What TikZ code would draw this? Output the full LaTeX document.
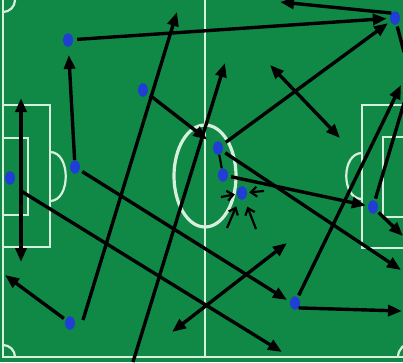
\documentclass[tikz,border=0pt]{standalone}
\usetikzlibrary{arrows.meta,shapes.geometric}
\definecolor{pitch}{RGB}{16,137,70}
\definecolor{chalk}{RGB}{215,240,222}
\definecolor{player}{RGB}{32,62,212}
\begin{document}
\begin{tikzpicture}[x=1pt,y=-1pt,
  chalkline/.style={draw=chalk,line width=2.2pt},
  pl/.style={shape=ellipse,fill=player,minimum width=10pt,minimum height=13.5pt,inner sep=0pt},
  run/.style={draw=black,line width=3.4pt,-{Triangle[length=14pt,width=11pt]}},
  runboth/.style={draw=black,line width=3.4pt,{Triangle[length=14pt,width=11pt]}-{Triangle[length=14pt,width=11pt]}},
  plainrun/.style={draw=black,line width=3.4pt},
  press/.style={draw=black,line width=2.2pt,-{Straight Barb[length=6pt,width=10pt]}}]
\useasboundingbox (0,0) rectangle (403,362);
\fill[pitch] (0,0) rectangle (403,362);
\begin{scope}
\clip (0,0) rectangle (403,362);
% pitch markings
\draw[chalkline] (3,0) -- (3,357) -- (403,357);
\draw[draw=chalk,line width=1.6pt] (205,0) -- (205,357);
\draw[chalkline] (3,105) -- (50,105) -- (50,247) -- (3,247);
\draw[chalkline] (3,138) -- (28,138) -- (28,215) -- (3,215);
\draw[chalkline] (50,152) .. controls (71,152) and (71,201) .. (50,201);
\draw[chalkline] (404,105) -- (362,105) -- (362,248) -- (404,248);
\draw[chalkline] (404,137) -- (383,137) -- (383,217) -- (404,217);
\draw[chalkline] (362,153) .. controls (341,153) and (341,199) .. (362,199);
\draw[draw=chalk,line width=3.2pt] (205,176) ellipse [x radius=31pt,y radius=51pt];
\draw[chalkline] (15,0) arc[start angle=0,end angle=-90,radius=12pt];
\draw[chalkline] (3,345) arc[start angle=90,end angle=0,radius=12pt];
\draw[chalkline] (398,357) arc[start angle=180,end angle=90,radius=14pt];
% players
\node[pl] (p1) at (68,40) {};
\node[pl] (p2) at (143,90) {};
\node[pl] (p3) at (75,167) {};
\node[pl] (p4) at (10,178) {};
\node[pl] (p5) at (70,323) {};
\node[pl] (p6) at (218,148) {};
\node[pl] (p7) at (223,175) {};
\node[pl] (p8) at (242,193) {};
\node[pl] (p9) at (395,18) {};
\node[pl] (p10) at (373,207) {};
\node[pl] (p11) at (295,303) {};
% free ends
\coordinate (v1) at (21,98);
\coordinate (v2) at (21,262);
\coordinate (v3) at (21,191);
\coordinate (e4) at (282,352);
\coordinate (e5) at (287,300);
\coordinate (e6) at (5,275);
\coordinate (s7) at (83,320);
\coordinate (e7) at (177,12);
\coordinate (s8) at (133,362);
\coordinate (e8) at (225,63);
\coordinate (d1) at (270,65);
\coordinate (d2) at (340,138);
\coordinate (e12) at (401,270);
\coordinate (e14) at (403,236);
\coordinate (e15) at (402,311);
\coordinate (e16) at (401,85);
\coordinate (e17) at (404,103);
\coordinate (e18) at (280,2);
\coordinate (e19) at (404,52);
\coordinate (d3) at (172,332);
\coordinate (d4) at (287,243);
\coordinate (q1) at (221,197);
\coordinate (q2) at (264,191);
\coordinate (q3) at (227,228);
\coordinate (q4) at (256,229);
% runs
\draw[run,shorten <=4pt,shorten >=3pt] (p1) -- (p9);
\draw[run,shorten >=8pt] (p3) -- (p1);
\draw[runboth] (v1) -- (v2);
\draw[run] (v3) -- (e4);
\draw[run,shorten <=3pt] (p3) -- (e5);
\draw[run,shorten <=2pt] (p5) -- (e6);
\draw[run] (s7) -- (e7);
\draw[run] (s8) -- (e8);
\draw[run,shorten <=3pt,shorten >=8pt] (p2) -- (p6);
\draw[run,shorten <=4pt,shorten >=3pt] (p6) -- (p9);
\draw[runboth] (d1) -- (d2);
\draw[run,shorten <=3pt] (p6) -- (e12);
\draw[run,shorten <=3pt,shorten >=2pt] (p7) -- (p10);
\draw[run,shorten <=2pt] (p10) -- (e14);
\draw[run] (p11.south east) -- (e15);
\draw[run,shorten <=2pt] (p11) -- (e16);
\draw[plainrun,shorten <=2pt] (p10) -- (e17);
\draw[run] (p9.north west) -- (e18);
\draw[plainrun,shorten <=2pt] (p9) -- (e19);
\draw[runboth] (d3) -- (d4);
\draw[black,line width=2.2pt] (p6) -- (p7);
\draw[press,shorten >=2pt] (q1) -- (p8);
\draw[press,shorten >=2pt] (q2) -- (p8);
\draw[press,shorten >=8pt] (q3) -- (p8);
\draw[press,shorten >=8pt] (q4) -- (p8);
\end{scope}
\end{tikzpicture}
\end{document}
